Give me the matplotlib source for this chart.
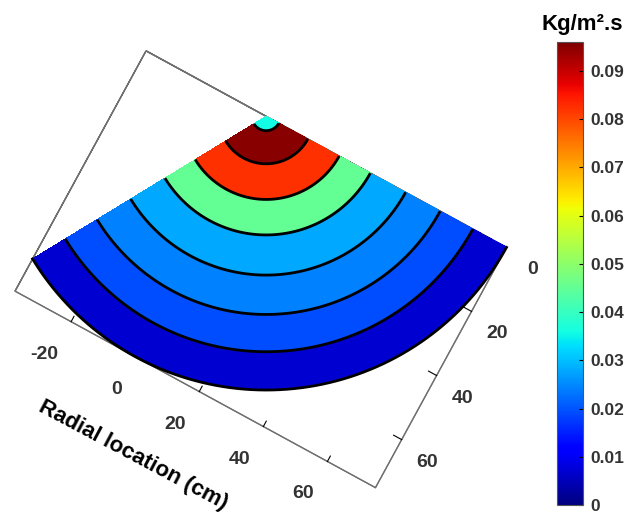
import numpy as np
import matplotlib
matplotlib.use('Agg')
import matplotlib.pyplot as plt
from matplotlib import cm, colors

plt.rcParams['font.family'] = ['Liberation Sans', 'DejaVu Sans']
plt.rcParams['font.weight'] = 'bold'
plt.rcParams['axes.unicode_minus'] = False

# mass flux vs radius, read at the ring boundaries (cm, Kg/m2.s)
radius_cm = [0, 3.8, 13, 22.8, 32.5, 43.5, 54.3, 64.5, 75]
flux = [0.1, 0.096, 0.095, 0.0822, 0.0452, 0.0281, 0.0242, 0.0194, 0.0068]
levels = [0.0068, 0.0194, 0.0242, 0.0281, 0.0452, 0.0822, 0.095, 0.096]
cap_value = 0.036      # colour of the small cap on the axis
sector_deg = 120
vmax = 0.096

x_ticks = [-20, 0, 20, 40, 60]
y_ticks = [0, 20, 40, 60]
cbar_ticks = [0, 0.01, 0.02, 0.03, 0.04, 0.05, 0.06, 0.07, 0.08, 0.09]
cbar_labels = ['0', '0.01', '0.02', '0.03', '0.04', '0.05', '0.06', '0.07', '0.08', '0.09']

# polar grid over the sector
r = np.linspace(0, radius_cm[-1], 301)
th = np.radians(np.linspace(0, sector_deg, 241))
R, TH = np.meshgrid(r, th)
X = R * np.cos(TH)
Y = R * np.sin(TH)
F = np.interp(R, radius_cm, flux)

norm = colors.Normalize(0, vmax)
band_colors = [cm.jet(norm(v)) for v in levels[:-1]] + [cm.jet(norm(cap_value))]

fig = plt.figure(figsize=(6.27, 5.16), dpi=100)
side = 560
ax = fig.add_axes([(260.75 - 0.5135 * side) / 627, (246.75 - 0.5135 * side) / 516,
                   side / 627, side / 516],
                  projection='3d', proj_type='ortho', computed_zorder=False)

ax.contourf(X, Y, F, levels=levels, colors=band_colors, extend='max',
            offset=0, zorder=1)
ax.contour(X, Y, F, levels=levels[1:], colors='k', linewidths=2,
           offset=0, zorder=2)
ax.plot(r[-1] * np.cos(th), r[-1] * np.sin(th), 0, color='k', lw=2, zorder=3)

x_min = r[-1] * np.cos(np.radians(sector_deg))
ax.set_xlim(x_min, r[-1])
ax.set_ylim(r[-1], 0)
ax.set_zlim(-1, 1)
ax.set_box_aspect((r[-1] - x_min, r[-1], 1), zoom=479 / side)
ax.view_init(elev=89.9, azim=-61.4)

ax.set_xticks(x_ticks)
ax.set_yticks(y_ticks)
ax.set_zticks([])
ax.grid(False)
for a in (ax.xaxis, ax.yaxis, ax.zaxis):
    a.pane.set_alpha(None)
    a.pane.set_facecolor((1, 1, 1, 0))
    a.pane.set_edgecolor('#707070')
    a.line.set_color('#707070')
    a._axinfo['tick']['inward_factor'] = 0
    a._axinfo['tick']['outward_factor'] = 0.28
    a._axinfo['tick']['color'] = '#707070'
ax.tick_params(axis='both', labelsize=14, labelcolor='#333333')
ax.tick_params(axis='x', pad=13)
ax.tick_params(axis='y', pad=7)
for lbl in ax.get_xticklabels():
    lbl.set_horizontalalignment('right')

fig.text(133 / 627, 1 - 455 / 516, 'Radial location (cm)', rotation=-28,
         rotation_mode='anchor', ha='center', va='center', fontsize=16,
         fontweight='bold')

cax = fig.add_axes([557 / 627, 11 / 516, 26 / 627, 463 / 516])
cb = fig.colorbar(cm.ScalarMappable(norm=norm, cmap='jet'), cax=cax, ticks=cbar_ticks)
cb.ax.set_yticklabels(cbar_labels)
cax.tick_params(direction='in', length=3, labelsize=12.5, pad=5, labelcolor='#333333')
cb.outline.set_edgecolor('#555555')
fig.text(582 / 627, 1 - 30 / 516, 'Kg/m\u00b2.s', ha='center', va='baseline',
         fontsize=16, fontweight='bold')

fig.savefig('out.png', dpi=100)
